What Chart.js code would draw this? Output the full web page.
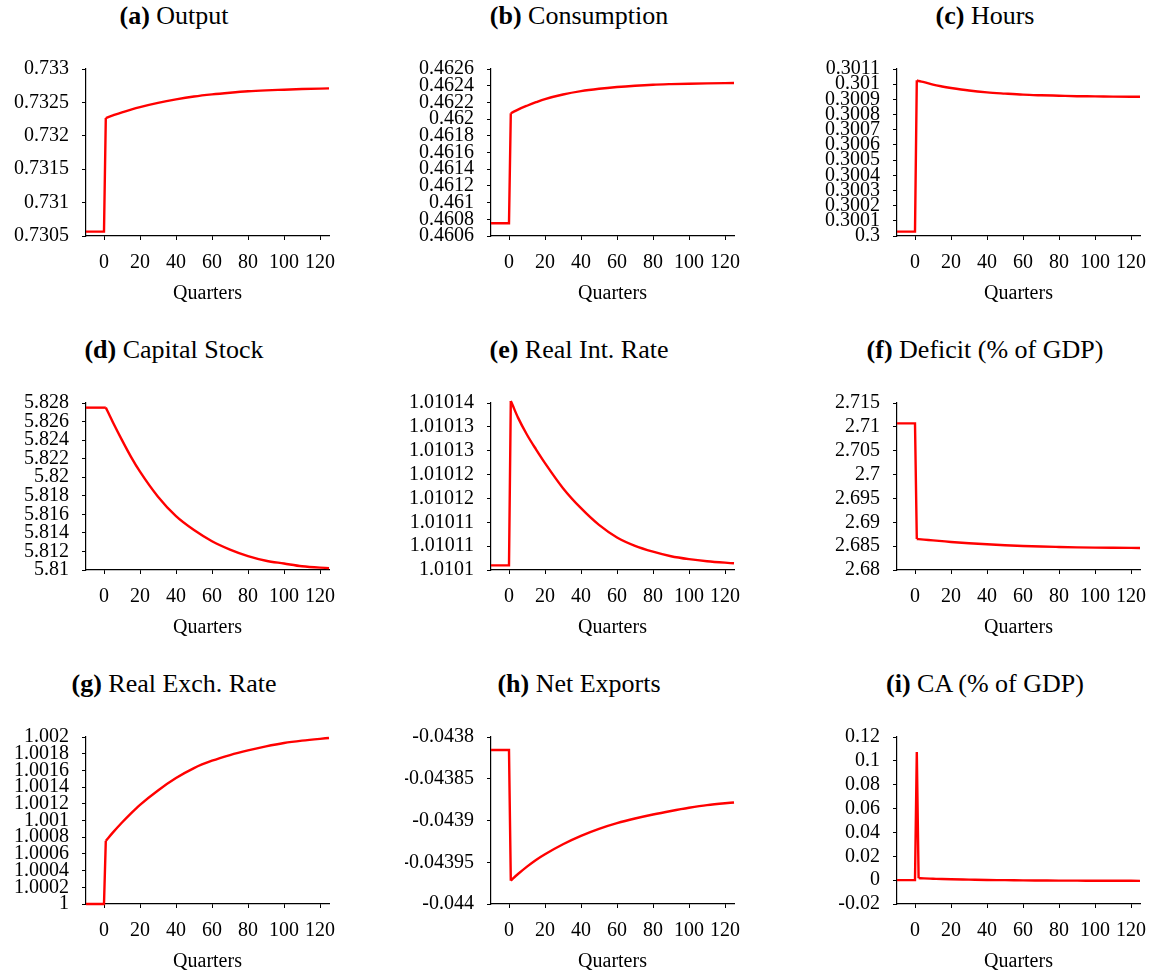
<!DOCTYPE html>
<html>
<head>
<meta charset="utf-8">
<script src="https://cdn.jsdelivr.net/npm/chart.js@4.4.0/dist/chart.umd.min.js"></script>
<style>
  body { margin: 0; background: #fff; width: 1157px; height: 974px; position: relative; overflow: hidden; font-family: "Liberation Serif", "Times New Roman", serif; }
  .title { position: absolute; width: 324px; text-align: center; font-size: 26px; line-height: 30px; color: #000; white-space: nowrap; }
  .plot { position: absolute; width: 336px; height: 256px; }
</style>
</head>
<body>
<script>
const QUARTERS = [-10, 0, 1, 2, 5, 10, 15, 20, 30, 40, 50, 60, 70, 80, 90, 100, 110, 125];
const X_TICKS = [0, 20, 40, 60, 80, 100, 120];

const OUTPUT = [0.730565, 0.730565, 0.732266, 0.732277, 0.732306, 0.732352, 0.732393, 0.73243, 0.732493, 0.732545, 0.732588, 0.73262, 0.732645, 0.732666, 0.73268, 0.73269, 0.7327, 0.73271];
const CONSUMPTION = [0.460752, 0.460752, 0.46207, 0.462081, 0.462114, 0.46216, 0.462202, 0.46224, 0.462295, 0.462335, 0.462363, 0.462384, 0.4624, 0.462412, 0.462419, 0.462424, 0.462428, 0.462432];
const HOURS = [0.300029, 0.300029, 0.301025, 0.301021, 0.301014, 0.300997, 0.300985, 0.300975, 0.300958, 0.300946, 0.300938, 0.300931, 0.300927, 0.300924, 0.300921, 0.30092, 0.300918, 0.300917];
const CAPITAL = [5.8275, 5.8275, 5.8275, 5.8271, 5.8259, 5.824, 5.8222, 5.8206, 5.8179, 5.8158, 5.8143, 5.8131, 5.8122, 5.8115, 5.811, 5.8107, 5.8104, 5.8102];
const REAL_RATE = [1.0101011, 1.0101011, 1.0101405, 1.0101395, 1.0101365, 1.0101324, 1.0101289, 1.0101256, 1.0101196, 1.0101148, 1.0101108, 1.0101078, 1.0101058, 1.0101044, 1.0101033, 1.0101026, 1.0101021, 1.0101016];
const DEFICIT = [2.71073, 2.71073, 2.68651, 2.68647, 2.68637, 2.68622, 2.68605, 2.68588, 2.68561, 2.68539, 2.6852, 2.68504, 2.68492, 2.68483, 2.68475, 2.68469, 2.68465, 2.68462];
const RER = [1.0, 1.0, 1.000756, 1.000782, 1.000858, 1.000976, 1.001086, 1.001188, 1.00136, 1.001508, 1.001628, 1.001716, 1.001784, 1.00184, 1.001888, 1.001928, 1.001956, 1.001988];
const NET_EXPORTS = [-0.0438156, -0.0438156, -0.043972, -0.0439699, -0.0439641, -0.0439552, -0.0439472, -0.0439404, -0.0439284, -0.0439184, -0.04391, -0.0439032, -0.0438976, -0.0438928, -0.0438886, -0.0438848, -0.0438816, -0.0438784];
const CA = [0, 0, 0.1075, 0.0017, 0.0015, 0.0012, 0.0009, 0.0007, 0.0004, 0.0001, 0.0, -0.0002, -0.0003, -0.0004, -0.0004, -0.0005, -0.0005, -0.0006];

// y tick labels, bottom to top (evenly spaced between first and last)
const OUTPUT_TICKS = ["0.7305", "0.731", "0.7315", "0.732", "0.7325", "0.733"];
const CONSUMPTION_TICKS = ["0.4606", "0.4608", "0.461", "0.4612", "0.4614", "0.4616", "0.4618", "0.462", "0.4622", "0.4624", "0.4626"];
const HOURS_TICKS = ["0.3", "0.3001", "0.3002", "0.3003", "0.3004", "0.3005", "0.3006", "0.3007", "0.3008", "0.3009", "0.301", "0.3011"];
const CAPITAL_TICKS = ["5.81", "5.812", "5.814", "5.816", "5.818", "5.82", "5.822", "5.824", "5.826", "5.828"];
const REAL_RATE_TICKS = ["1.0101", "1.01011", "1.01011", "1.01012", "1.01012", "1.01013", "1.01013", "1.01014"];
const DEFICIT_TICKS = ["2.68", "2.685", "2.69", "2.695", "2.7", "2.705", "2.71", "2.715"];
const RER_TICKS = ["1", "1.0002", "1.0004", "1.0006", "1.0008", "1.001", "1.0012", "1.0014", "1.0016", "1.0018", "1.002"];
const NET_EXPORTS_TICKS = ["-0.044", "-0.04395", "-0.0439", "-0.04385", "-0.0438"];
const CA_TICKS = ["-0.02", "0", "0.02", "0.04", "0.06", "0.08", "0.1", "0.12"];

// smoothFrom: index in QUARTERS where the straight jump ends and the smooth path starts
const PANELS = [
  { tag: "(a)", name: "Output", values: OUTPUT, ticks: OUTPUT_TICKS, smoothFrom: 2 },
  { tag: "(b)", name: "Consumption", values: CONSUMPTION, ticks: CONSUMPTION_TICKS, smoothFrom: 2 },
  { tag: "(c)", name: "Hours", values: HOURS, ticks: HOURS_TICKS, smoothFrom: 2 },
  { tag: "(d)", name: "Capital Stock", values: CAPITAL, ticks: CAPITAL_TICKS, smoothFrom: 2 },
  { tag: "(e)", name: "Real Int. Rate", values: REAL_RATE, ticks: REAL_RATE_TICKS, smoothFrom: 2 },
  { tag: "(f)", name: "Deficit (% of GDP)", values: DEFICIT, ticks: DEFICIT_TICKS, smoothFrom: 2 },
  { tag: "(g)", name: "Real Exch. Rate", values: RER, ticks: RER_TICKS, smoothFrom: 2 },
  { tag: "(h)", name: "Net Exports", values: NET_EXPORTS, ticks: NET_EXPORTS_TICKS, smoothFrom: 2 },
  { tag: "(i)", name: "CA (% of GDP)", values: CA, ticks: CA_TICKS, smoothFrom: 3 },
];

const PLOT_LEFT = [86, 491, 897];
const PLOT_TOP = [69, 403, 737];
const Y_AXIS_W = 86;
const FONT = "Liberation Serif";

function lineSet(points, smooth) {
  return {
    data: points,
    borderColor: "#ff0000",
    borderWidth: 2.4,
    pointRadius: 0,
    tension: 0,
    cubicInterpolationMode: smooth ? "monotone" : "default",
    fill: false,
    clip: false,
  };
}

function makePanel(p, idx) {
  const left = PLOT_LEFT[idx % 3];
  const top = PLOT_TOP[Math.floor(idx / 3)];

  const title = document.createElement("div");
  title.className = "title";
  title.style.left = (left - 74) + "px";
  title.style.top = (top - 68) + "px";
  title.innerHTML = `<b>${p.tag}</b> ${p.name}`;
  document.body.appendChild(title);

  const wrap = document.createElement("div");
  wrap.className = "plot";
  wrap.style.left = (left - Y_AXIS_W) + "px";
  wrap.style.top = (top - 19) + "px";
  wrap.innerHTML = "<canvas></canvas>";
  document.body.appendChild(wrap);

  const yMin = parseFloat(p.ticks[0]);
  const yMax = parseFloat(p.ticks[p.ticks.length - 1]);
  const n = p.ticks.length;
  const pts = QUARTERS.map((q, i) => ({ x: q, y: p.values[i] }));

  new Chart(wrap.querySelector("canvas"), {
    type: "line",
    data: {
      datasets: [
        lineSet(pts.slice(0, p.smoothFrom + 1), false), // steady state and the jump
        lineSet(pts.slice(p.smoothFrom), true),          // adjustment path
      ],
    },
    options: {
      animation: false,
      responsive: true,
      maintainAspectRatio: false,
      layout: { padding: { top: 19, right: 7, left: 0, bottom: 0 } },
      plugins: { legend: { display: false }, tooltip: { enabled: false } },
      scales: {
        x: {
          type: "linear",
          min: -10,
          max: 125,
          afterBuildTicks: (s) => { s.ticks = X_TICKS.map(v => ({ value: v })); },
          afterFit: (s) => { s.height = 70; s.paddingLeft = 0; s.paddingRight = 0; },
          grid: { drawOnChartArea: false, drawTicks: true, tickLength: 4, color: "#000" },
          border: { color: "#000", width: 1.2 },
          ticks: { color: "#000", padding: 11, maxRotation: 0, autoSkip: false, font: { family: FONT, size: 20 } },
          title: { display: true, text: "Quarters", color: "#000", padding: 0, font: { family: FONT, size: 20 } },
        },
        y: {
          type: "linear",
          min: yMin,
          max: yMax,
          afterBuildTicks: (s) => { s.ticks = p.ticks.map((_, i) => ({ value: yMin + (yMax - yMin) * i / (n - 1) })); },
          afterFit: (s) => { s.width = Y_AXIS_W; s.paddingTop = 0; s.paddingBottom = 0; },
          grid: { drawOnChartArea: false, drawTicks: true, tickLength: 4, color: "#000" },
          border: { color: "#000", width: 1.2 },
          ticks: { color: "#000", padding: 13, autoSkip: false, font: { family: FONT, size: 20 }, callback: (v, i) => p.ticks[i] },
        },
      },
    },
  });
}

Chart.defaults.font.family = FONT;
document.fonts.load("20px 'Liberation Serif'").then(() => PANELS.forEach(makePanel), () => PANELS.forEach(makePanel));
</script>
</body>
</html>
